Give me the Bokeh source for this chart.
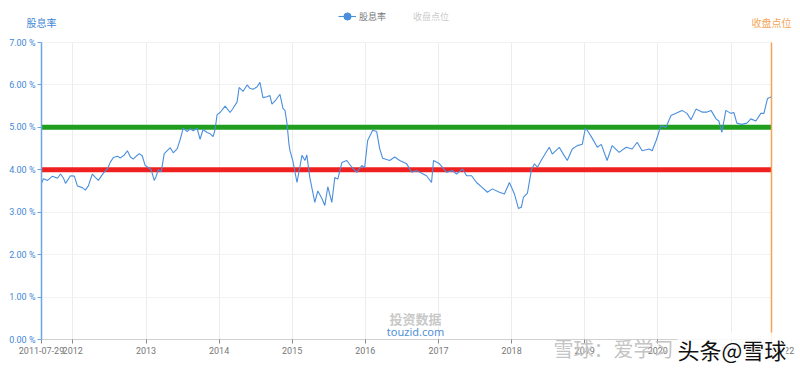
import pandas as pd
from bokeh.plotting import figure
from bokeh.models import (ColumnDataSource, Label, LinearAxis, DatetimeAxis, Range1d, FixedTicker,
                          CustomJSTickFormatter, Legend, LegendItem, Grid)
from bokeh.embed import file_html
from bokeh.resources import INLINE

# ---------------- data ----------------
dates = [
    "2011-07-29", "2011-08-08", "2011-08-28", "2011-09-22", "2011-10-17", "2011-11-01", "2011-11-16",
    "2011-11-26", "2011-12-21", "2012-01-09", "2012-01-24", "2012-02-18", "2012-03-04", "2012-03-19",
    "2012-04-08", "2012-04-23", "2012-05-08", "2012-06-02", "2012-06-22", "2012-07-07", "2012-07-22",
    "2012-08-11", "2012-08-26", "2012-09-15", "2012-09-30", "2012-10-15", "2012-10-29", "2012-11-13",
    "2012-11-28", "2012-12-13", "2012-12-28", "2013-01-12", "2013-01-27", "2013-02-11", "2013-02-21",
    "2013-03-03", "2013-03-18", "2013-04-02", "2013-04-17", "2013-05-02", "2013-05-17", "2013-06-06",
    "2013-06-21", "2013-07-06", "2013-07-26", "2013-08-09", "2013-08-24", "2013-09-13", "2013-09-28",
    "2013-10-13", "2013-11-02", "2013-11-17", "2013-12-02", "2013-12-12", "2013-12-22", "2014-01-06",
    "2014-01-31", "2014-02-25", "2014-03-12", "2014-04-01", "2014-04-11", "2014-05-01", "2014-05-21",
    "2014-06-04", "2014-06-19", "2014-07-09", "2014-07-24", "2014-08-08", "2014-08-28", "2014-09-12",
    "2014-09-22", "2014-10-12", "2014-11-01", "2014-11-16", "2014-11-26", "2014-12-06", "2014-12-16",
    "2014-12-21", "2015-01-05", "2015-01-25", "2015-02-19", "2015-03-06", "2015-03-15", "2015-03-30",
    "2015-04-24", "2015-05-09", "2015-05-29", "2015-06-13", "2015-06-28", "2015-07-18", "2015-08-02",
    "2015-08-17", "2015-09-06", "2015-10-01", "2015-10-26", "2015-11-20", "2015-12-15", "2015-12-29",
    "2016-01-13", "2016-02-07", "2016-02-27", "2016-03-13", "2016-03-28", "2016-05-02", "2016-05-27",
    "2016-06-21", "2016-07-26", "2016-08-20", "2016-09-14", "2016-10-09", "2016-11-02", "2016-11-27",
    "2016-12-07", "2017-01-06", "2017-02-10", "2017-03-12", "2017-04-01", "2017-05-01", "2017-05-21",
    "2017-06-15", "2017-07-10", "2017-08-08", "2017-09-02", "2017-09-27", "2017-11-01", "2017-11-26",
    "2017-12-21", "2018-01-15", "2018-02-04", "2018-02-19", "2018-03-01", "2018-03-21", "2018-04-10",
    "2018-04-25", "2018-05-10", "2018-06-04", "2018-07-08", "2018-07-23", "2018-08-27", "2018-09-11",
    "2018-10-06", "2018-10-31", "2018-11-25", "2018-12-20", "2019-01-04", "2019-01-14", "2019-02-08",
    "2019-03-05", "2019-03-25", "2019-04-23", "2019-05-18", "2019-06-22", "2019-07-27", "2019-08-26",
    "2019-09-20", "2019-10-15", "2019-11-19", "2019-12-04", "2019-12-24", "2020-01-17", "2020-02-11",
    "2020-03-07", "2020-04-01", "2020-05-01", "2020-05-26", "2020-06-15", "2020-07-10", "2020-08-09",
    "2020-09-03", "2020-09-23", "2020-10-18", "2020-11-01", "2020-11-16", "2020-12-06", "2020-12-31",
    "2021-01-15", "2021-01-30", "2021-02-24", "2021-03-21", "2021-04-10", "2021-05-05", "2021-05-30",
    "2021-06-14", "2021-07-02", "2021-07-22",
]
dividend_yield = [
    3.68, 3.79, 3.75, 3.85, 3.80, 3.90, 3.80,
    3.68, 3.86, 3.85, 3.62, 3.58, 3.52, 3.62,
    3.90, 3.82, 3.75, 3.92, 4.02, 4.18, 4.29,
    4.32, 4.28, 4.35, 4.45, 4.30, 4.25, 4.32,
    4.38, 4.33, 4.10, 4.05, 4.00, 3.75, 3.85,
    4.00, 3.95, 4.38, 4.45, 4.52, 4.40, 4.50,
    4.72, 4.98, 4.90, 4.97, 4.92, 4.98, 4.72,
    4.95, 4.88, 4.85, 4.78, 4.95, 5.30, 5.35,
    5.50, 5.35, 5.45, 5.60, 5.94, 5.85, 6.00,
    5.92, 5.90, 5.95, 6.06, 5.70, 5.72, 5.75,
    5.55, 5.65, 5.78, 5.45, 5.40, 5.10, 4.60,
    4.45, 4.20, 3.70, 4.34, 4.22, 4.35, 3.82,
    3.23, 3.50, 3.33, 3.16, 3.60, 3.23, 3.82,
    3.78, 4.17, 4.22, 4.06, 3.94, 4.10, 4.05,
    4.69, 4.93, 4.90, 4.50, 4.27, 4.22, 4.30,
    4.22, 4.14, 3.94, 3.98, 3.92, 3.86, 3.70,
    4.22, 4.14, 3.94, 3.98, 3.90, 4.02, 3.86,
    3.86, 3.70, 3.58, 3.47, 3.55, 3.47, 3.43,
    3.70, 3.43, 3.09, 3.12, 3.35, 3.45, 4.00,
    4.14, 4.06, 4.27, 4.53, 4.37, 4.53, 4.41,
    4.22, 4.49, 4.57, 4.60, 4.97, 4.93, 4.74,
    4.53, 4.60, 4.22, 4.57, 4.41, 4.53, 4.49,
    4.65, 4.45, 4.49, 4.45, 4.69, 5.04, 5.00,
    5.28, 5.33, 5.40, 5.33, 5.18, 5.43, 5.36,
    5.36, 5.40, 5.20, 5.15, 4.88, 5.40, 5.33,
    5.35, 5.10, 5.07, 5.10, 5.20, 5.15, 5.33,
    5.33, 5.68, 5.72,
]
# hidden series (legend item switched off in the original)
index_dates = []
index_close = []

upper_level = 5.0
lower_level = 4.0
y_ticks = [0, 1, 2, 3, 4, 5, 6, 7]
x_tick_dates = ["2011-07-29", "2012-01-01", "2013-01-01", "2014-01-01", "2015-01-01",
                "2016-01-01", "2017-01-01", "2018-01-01", "2019-01-01", "2020-01-01",
                "2021-01-01", "2021-07-22"]

# ---------------- styling / layout ----------------
BLUE = "#4a8fdd"
AXBLUE = "#3f87d6"
ORANGE = "#f3a456"
CJK = "Noto Sans CJK SC"
NUM = "Roboto"

W, H = 796, 366                          # figure size
PAD_L, PAD_T = 41, 42                    # plot-area offsets inside the figure
PAD_R, PAD_B = W - 771, H - 339

x_ticks_ms = [pd.Timestamp(d).value // 10**6 for d in x_tick_dates]
x0_ms, x1_ms = x_ticks_ms[0], x_ticks_ms[-1]
ms_per_px = (x1_ms - x0_ms) / (W - PAD_L - PAD_R)
y0, y1 = y_ticks[0], y_ticks[-1]
u_per_px = (y1 - y0) / (H - PAD_T - PAD_B)


def sy(page_y):
    """screen y (from bottom) for a position given from the top of the figure"""
    return H - page_y


src = ColumnDataSource(dict(x=pd.to_datetime(dates), y=dividend_yield))
idx_src = ColumnDataSource(dict(x=pd.to_datetime(index_dates), y=index_close))

p = figure(width=W, height=H, x_axis_type="datetime",
           x_axis_location=None, y_axis_location=None,
           x_range=Range1d(x0_ms - PAD_L * ms_per_px, x1_ms + PAD_R * ms_per_px),
           y_range=Range1d(y0 - PAD_B * u_per_px, y1 + PAD_T * u_per_px),
           output_backend="svg", toolbar_location=None,
           min_border=0, min_border_left=0, min_border_right=0, min_border_top=0, min_border_bottom=0)
p.outline_line_color = None
p.background_fill_color = "white"
p.border_fill_color = "white"
p.grid.visible = False

# grids
p.add_layout(Grid(dimension=0, ticker=FixedTicker(ticks=x_ticks_ms[1:-1]), cross_bounds=(y0, y1),
                  grid_line_color="#ececec"))
p.add_layout(Grid(dimension=1, ticker=FixedTicker(ticks=y_ticks[1:]), cross_bounds=(x0_ms, x1_ms),
                  grid_line_color="#f2f2f2"))

# x axis at y = 0
xax = DatetimeAxis(fixed_location=y0, bounds=(x0_ms, x1_ms), ticker=FixedTicker(ticks=x_ticks_ms))
xax.formatter = CustomJSTickFormatter(code="""
const d = new Date(tick);
if (d.getUTCMonth() === 0 && d.getUTCDate() === 1) { return String(d.getUTCFullYear()); }
return d.toISOString().slice(0, 10);
""")
xax.axis_line_color = "#d0d0d0"
xax.major_tick_line_color = "#888888"
xax.major_tick_out = 4
xax.major_tick_in = 0
xax.minor_tick_line_color = None
xax.major_label_text_color = "#777777"
xax.major_label_text_font = NUM
xax.major_label_text_font_size = "9px"
xax.major_label_standoff = 3
p.add_layout(xax, "below")

# y axis (left)
yax = LinearAxis(fixed_location=x0_ms, bounds=(y0, y1), ticker=FixedTicker(ticks=y_ticks))
yax.formatter = CustomJSTickFormatter(code='return tick.toFixed(2) + " %";')
yax.axis_line_color = "#6aa6e6"
yax.axis_line_width = 1.5
yax.major_tick_line_color = "#6aa6e6"
yax.major_tick_out = 4
yax.major_tick_in = 0
yax.minor_tick_line_color = None
yax.major_label_text_color = AXBLUE
yax.major_label_text_font = NUM
yax.major_label_text_font_size = "9px"
yax.major_label_standoff = 2
p.add_layout(yax, "left")

# right axis (closing index, hidden series)
p.extra_y_ranges = {"idx": Range1d(0, 1)}
rax = LinearAxis(fixed_location=x1_ms, bounds=(y0, y1), ticker=FixedTicker(ticks=[]),
                 axis_line_color=ORANGE, axis_line_width=1.5,
                 major_label_text_font_size="0px", major_tick_line_color=None,
                 minor_tick_line_color=None)
p.add_layout(rax, "right")

# reference levels
lv = ColumnDataSource(dict(x0=[x0_ms, x0_ms], x1=[x1_ms, x1_ms], y=[upper_level, lower_level],
                           c=["#1f9e1f", "#ee2020"]))
p.segment(x0="x0", x1="x1", y0="y", y1="y", source=lv, line_color="c", line_width=5)

# series
line_r = p.line("x", "y", source=src, line_color=BLUE, line_width=1.1)
# point markers: only shown in the legend (muted, fully transparent on the plot)
dot_r = p.scatter("x", "y", source=src, size=8, fill_color=BLUE, line_color=BLUE,
                  muted_alpha=0.0)
dot_r.muted = True
idx_line = p.line("x", "y", source=idx_src, y_range_name="idx", line_color="#bbbbbb", line_width=1.2)
idx_dot = p.scatter("x", "y", source=idx_src, y_range_name="idx", size=8,
                    fill_color="#bbbbbb", line_color="#bbbbbb")
idx_line.visible = False
idx_dot.visible = False

legend = Legend(items=[LegendItem(label="股息率", renderers=[line_r, dot_r]),
                       LegendItem(label="收盘点位", renderers=[idx_line, idx_dot])],
                orientation="horizontal", location=(338, sy(25)),
                click_policy="hide", inactive_fill_color="white", inactive_fill_alpha=0.6,
                background_fill_alpha=0, border_line_alpha=0,
                label_text_font=CJK, label_text_font_size="9px", label_text_color="#777777",
                glyph_width=18, glyph_height=18, label_standoff=3, spacing=6,
                padding=0, margin=0, label_height=10)
p.add_layout(legend)

# axis titles at the top
p.add_layout(Label(x=PAD_L, y=sy(22), x_units="screen", y_units="screen", text="股息率",
                   text_align="center", text_baseline="middle", text_color=AXBLUE,
                   text_font=CJK, text_font_size="10px"))
p.add_layout(Label(x=W - PAD_R, y=sy(22), x_units="screen", y_units="screen", text="收盘点位",
                   text_align="center", text_baseline="middle", text_color=ORANGE,
                   text_font=CJK, text_font_size="10px"))

# watermarks
p.add_layout(Label(x=415, y=sy(318), x_units="screen", y_units="screen", text="投资数据",
                   text_align="center", text_baseline="middle", text_color="#c9c9c9",
                   text_font=CJK, text_font_size="13px", text_font_style="bold"))
p.add_layout(Label(x=415, y=sy(331), x_units="screen", y_units="screen", text="touzid.com",
                   text_align="center", text_baseline="middle", text_color="#5090d8",
                   text_font="Noto Sans", text_font_size="11px"))
p.add_layout(Label(x=553, y=sy(348), x_units="screen", y_units="screen", text="雪球：爱学习",
                   text_align="left", text_baseline="middle", text_color="#c4c4c4",
                   text_font=CJK, text_font_size="20px"))
p.add_layout(Label(x=677, y=sy(348), x_units="screen", y_units="screen", text="头条@雪球",
                   text_align="left", text_baseline="middle", text_color="#111111",
                   text_font=CJK, text_font_size="22px",
                   background_fill_color="white", background_fill_alpha=0.85))

open("out.html", "w").write(file_html(p, INLINE))
